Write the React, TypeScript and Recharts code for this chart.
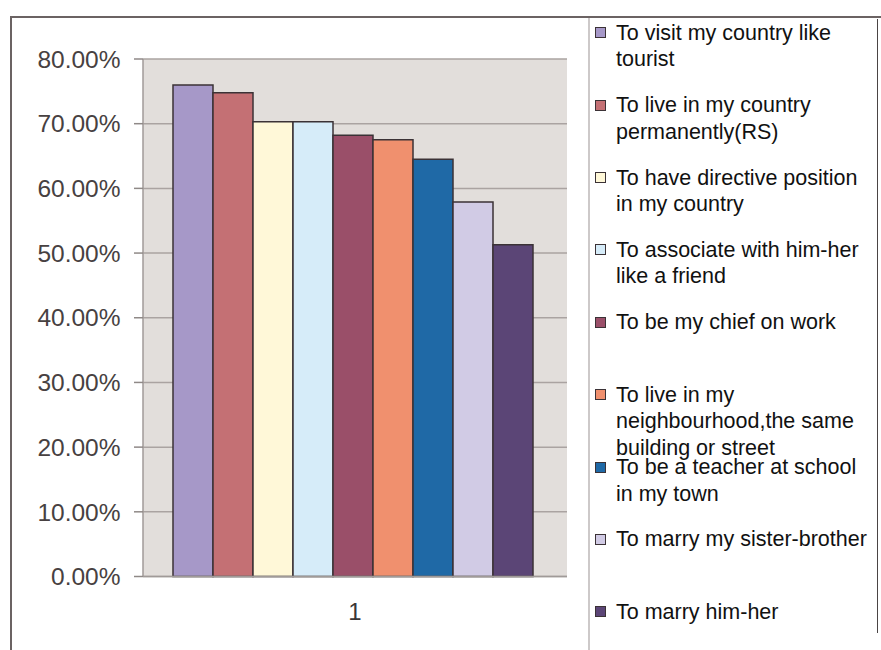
import React from "react";
import { BarChart, Bar, XAxis, YAxis, CartesianGrid } from "recharts";

const categories = ["1"];
const seriesNames = [
  "To visit my country like tourist",
  "To live in my country permanently(RS)",
  "To have directive position in my country",
  "To associate with him-her like a friend",
  "To be my chief on work",
  "To live in my neighbourhood,the same building or street",
  "To be a teacher at school in my town",
  "To marry my sister-brother",
  "To marry him-her",
];
const seriesValues = [76.0, 74.8, 70.3, 70.3, 68.2, 67.5, 64.5, 57.9, 51.3];
const seriesColors = [
  "#a698c8",
  "#c47074",
  "#fff8d8",
  "#d6ecf9",
  "#9a4f69",
  "#f0906e",
  "#1f69a6",
  "#d1cbe5",
  "#5b4576",
];
const yTicks = [0, 10, 20, 30, 40, 50, 60, 70, 80];

const data = categories.map((c) => {
  const row: Record<string, string | number> = { name: c };
  seriesValues.forEach((v, i) => {
    row["s" + i] = v;
  });
  return row;
});

const FONT = '"Liberation Sans", Arial, sans-serif';

export default function App() {
  return (
    <div
      style={{
        position: "absolute",
        left: 0,
        top: 0,
        width: 881,
        height: 650,
        background: "#ffffff",
        fontFamily: FONT,
        overflow: "hidden",
      }}
    >
      <BarChart
        width={881}
        height={650}
        data={data}
        margin={{ top: 59, right: 314, bottom: 23.5, left: 0 }}
        barCategoryGap={30}
        barGap={0}
      >
        <CartesianGrid
          vertical={false}
          fill="#e2dedb"
          stroke="#aaa3a1"
          strokeWidth={1.5}
          yAxisId="left"
        />
        <XAxis
          xAxisId="edges"
          type="number"
          domain={[0, 1]}
          ticks={[0, 1]}
          tickFormatter={() => ""}
          axisLine={false}
          tickLine={{ stroke: "#a09a98", strokeWidth: 1.5 }}
          tickSize={6}
          height={0}
          allowDataOverflow
        />
        <XAxis
          dataKey="name"
          axisLine={{ stroke: "#a09a98", strokeWidth: 1.5 }}
          tickLine={false}
          tickSize={0}
          tickMargin={26.5}
          height={50}
          tick={{ fill: "#3a3535", fontSize: 24, fontFamily: FONT }}
        />
        <YAxis
          yAxisId="left"
          domain={[0, 80]}
          ticks={yTicks}
          interval={0}
          width={143}
          tickSize={9}
          tickMargin={13.5}
          axisLine={{ stroke: "#a09a98", strokeWidth: 1.5 }}
          tickLine={{ stroke: "#8f8987", strokeWidth: 1.5 }}
          tickFormatter={(v: number) => v.toFixed(2) + "%"}
          tick={{ fill: "#474141", fontSize: 24.5, fontFamily: FONT }}
        />
        <YAxis
          yAxisId="right"
          orientation="right"
          domain={[0, 80]}
          width={0}
          tick={false}
          tickLine={false}
          axisLine={{ stroke: "#c8c2c0", strokeWidth: 1.5 }}
        />
        {seriesNames.map((n, i) => (
          <Bar
            key={n}
            yAxisId="left"
            dataKey={"s" + i}
            name={n}
            fill={seriesColors[i]}
            stroke="#3b3236"
            strokeWidth={1.5}
            isAnimationActive={false}
          />
        ))}
      </BarChart>

      {/* outer frame */}
      <div style={{ position: "absolute", left: 10, top: 16, width: 871, height: 2, background: "#6b6363" }} />
      <div style={{ position: "absolute", left: 9.5, top: 16, width: 2, height: 634, background: "#6b6363" }} />
      <div style={{ position: "absolute", left: 588, top: 18, width: 2, height: 632, background: "#cdc9c9" }} />
      <div style={{ position: "absolute", left: 876.5, top: 19, width: 1.5, height: 614, background: "#4a4444" }} />

      {/* legend */}
      <div style={{ position: "absolute", left: 595, top: 19.75, width: 281 }}>
        {seriesNames.map((n, i) => (
          <div key={n} style={{ height: 72.4, position: "relative" }}>
            <div
              style={{
                position: "absolute",
                left: 0,
                top: 7.5,
                width: 9,
                height: 9,
                background: seriesColors[i],
                border: "1.5px solid #3b3236",
              }}
            />
            <div
              style={{
                position: "absolute",
                left: 21,
                top: 0,
                width: 258,
                fontSize: 21.5,
                lineHeight: "26.5px",
                color: "#111111",
                fontFamily: FONT,
              }}
            >
              {n}
            </div>
          </div>
        ))}
      </div>
    </div>
  );
}
